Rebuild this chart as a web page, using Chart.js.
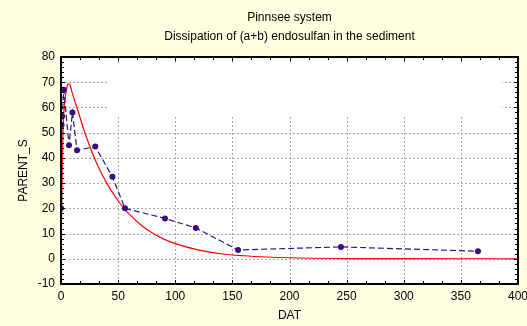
<!DOCTYPE html>
<html>
<head>
<meta charset="utf-8">
<title>Pinnsee system</title>
<script src="https://cdn.jsdelivr.net/npm/chart.js@4.4.1/dist/chart.umd.min.js"></script>
<style>
  html, body { margin: 0; padding: 0; background: #ffffe1; }
  #chart { display: block; }
</style>
</head>
<body>
<canvas id="chart" width="527" height="326"></canvas>
<script>
// observed parent residues (days after treatment)
const datDays = [0, 0.5, 1, 2.5, 7, 10, 14, 30, 45, 56, 91, 118, 155, 245, 365];
const parentObserved = [20, 53, 56.5, 67, 45, 58, 43, 44.5, 32.5, 20, 16, 12.2, 3.5, 4.7, 3];

// fitted curve
const fitDays = [0, 0.5, 1, 1.5, 2, 3, 4, 5, 6, 7, 8, 10, 15, 20, 25, 30, 35, 40, 45, 50, 55, 60, 70, 80, 90, 100, 120, 140, 160, 180, 200, 250, 300, 350, 400];
const parentFitted = [0, 18, 33, 45, 54, 61, 65, 67.5, 69.3, 69.4, 68.8, 65.5, 58.5, 51.2, 44.8, 39.2, 34.3, 30, 26.3, 23, 20, 17.6, 13.4, 10.2, 7.8, 6, 3.5, 2, 1.2, 0.7, 0.4, 0.1, 0.03, 0.01, 0];

const titleLines = ['Pinnsee system', 'Dissipation of (a+b) endosulfan in the sediment'];

const FONT = '"Liberation Sans", Arial, sans-serif';
Chart.defaults.font.family = FONT;
Chart.defaults.font.size = 12;
Chart.defaults.color = '#000';

const toPoints = (xs, ys) => xs.map((x, i) => ({ x: x, y: ys[i] }));

// yellow page, white plot, dotted grid, black frame with small inward ticks
const plotFrame = {
  id: 'plotFrame',
  beforeDraw(chart) {
    const { ctx, chartArea: a } = chart;
    ctx.save();
    ctx.fillStyle = '#ffffe1';
    ctx.fillRect(0, 0, chart.width, chart.height);
    ctx.fillStyle = '#fff';
    ctx.fillRect(a.left, a.top, a.right - a.left, a.bottom - a.top);

    // title, centred over the plot
    const cx = (a.left + a.right) / 2;
    ctx.fillStyle = '#000';
    ctx.font = '12px ' + FONT;
    ctx.textAlign = 'center';
    ctx.textBaseline = 'middle';
    titleLines.forEach((t, i) => ctx.fillText(t, cx, 18 + i * 19));
    ctx.restore();
  },
  beforeDatasetsDraw(chart) {
    const { ctx, chartArea: a, scales } = chart;
    ctx.save();
    ctx.strokeStyle = '#a8a8a8';
    ctx.lineWidth = 1;
    ctx.setLineDash([2, 2]);
    ctx.beginPath();
    scales.x.ticks.forEach(t => {
      if (t.value <= scales.x.min || t.value >= scales.x.max) return;
      const px = Math.round(scales.x.getPixelForValue(t.value)) + 0.5;
      ctx.moveTo(px, a.top); ctx.lineTo(px, a.bottom);
    });
    scales.y.ticks.forEach(t => {
      if (t.value <= scales.y.min || t.value >= scales.y.max) return;
      const py = Math.round(scales.y.getPixelForValue(t.value)) + 0.5;
      ctx.moveTo(a.left, py); ctx.lineTo(a.right, py);
    });
    ctx.stroke();
    // empty legend box leaves a gap in the grid
    ctx.fillStyle = '#fff';
    ctx.fillRect(108, 64, 394, 51);
    ctx.restore();
  },
  afterDraw(chart) {
    const { ctx, chartArea: a, scales } = chart;
    const xs = scales.x, ys = scales.y;
    ctx.save();
    ctx.strokeStyle = '#000';
    ctx.lineWidth = 1;
    ctx.beginPath();
    for (let i = 0; i <= 24; i++) {
      const v = i * 50 / 3;
      const px = Math.round(xs.getPixelForValue(v)) + 0.5;
      const len = i % 3 === 0 ? 4 : 3;
      ctx.moveTo(px, a.bottom); ctx.lineTo(px, a.bottom - len);
      ctx.moveTo(px, a.top); ctx.lineTo(px, a.top + len);
    }
    for (let v = -10; v <= 80; v += 2) {
      const py = Math.round(ys.getPixelForValue(v)) + 0.5;
      const len = v % 10 === 0 ? 4 : 3;
      ctx.moveTo(a.left, py); ctx.lineTo(a.left + len, py);
      ctx.moveTo(a.right, py); ctx.lineTo(a.right - len, py);
    }
    ctx.stroke();
    ctx.lineWidth = 2;
    ctx.strokeRect(a.left, a.top, a.right - a.left, a.bottom - a.top);
    ctx.restore();
  }
};

new Chart(document.getElementById('chart'), {
  type: 'scatter',
  data: {
    datasets: [
      {
        label: 'observed',
        data: toPoints(datDays, parentObserved),
        showLine: true,
        borderColor: '#1a1a8c',
        borderWidth: 1.2,
        borderDash: [6, 3],
        pointRadius: 3,
        pointBackgroundColor: '#3d0a80',
        pointBorderColor: '#3d0a80',
        pointBorderWidth: 0
      },
      {
        label: 'fitted',
        data: toPoints(fitDays, parentFitted),
        showLine: true,
        borderColor: '#ff0000',
        borderWidth: 1.2,
        pointRadius: 0,
        cubicInterpolationMode: 'monotone'
      }
    ]
  },
  options: {
    responsive: false,
    animation: false,
    devicePixelRatio: 1,
    layout: { padding: { left: 0, right: 9, top: 57, bottom: 0 } },
    plugins: {
      legend: { display: false },
      tooltip: { enabled: false },
      title: { display: false }
    },
    scales: {
      x: {
        type: 'linear',
        min: 0,
        max: 400,
        ticks: { stepSize: 50, padding: 5, color: '#000', font: { size: 12 } },
        grid: { display: false, drawTicks: false },
        border: { display: false },
        title: { display: true, text: 'DAT', color: '#000', font: { size: 12 }, padding: { top: 0, bottom: 3 } },
        afterFit(s) { s.height = 42; s.paddingLeft = 0; s.paddingRight = 0; }
      },
      y: {
        type: 'linear',
        min: -10,
        max: 80,
        ticks: { stepSize: 10, padding: 6, color: '#000', font: { size: 12 } },
        grid: { display: false, drawTicks: false },
        border: { display: false },
        title: { display: true, text: 'PARENT_S', color: '#000', font: { size: 12 }, padding: { top: 16, bottom: 0 } },
        afterFit(s) { s.width = 61; s.paddingTop = 0; s.paddingBottom = 0; }
      }
    }
  },
  plugins: [plotFrame]
});
</script>
</body>
</html>
